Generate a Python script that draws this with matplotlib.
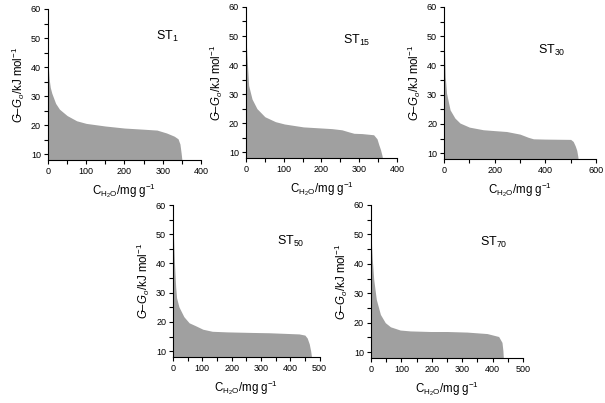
import matplotlib
matplotlib.use("Agg")
import matplotlib.pyplot as plt
from matplotlib.ticker import MultipleLocator

plt.rcParams['font.family'] = ['Liberation Sans', 'DejaVu Sans']
plt.rcParams['mathtext.fontset'] = 'custom'
plt.rcParams['mathtext.rm'] = 'Liberation Sans'
plt.rcParams['mathtext.it'] = 'Liberation Sans:italic'

# water content (mg/g) and free energy (kJ/mol)
st1_x = [0, 1, 3, 6, 10, 20, 30, 50, 75, 100, 150, 200, 250, 285, 310, 330, 340, 345, 348, 351]
st1_y = [45, 40, 36, 33, 31, 27.5, 25.5, 23.3, 21.5, 20.6, 19.7, 19.0, 18.6, 18.3, 17.3, 16.2, 15.3, 13.5, 10.5, 7]

st15_x = [0, 1, 3, 7, 16, 29, 50, 78, 102, 152, 203, 228, 254, 272, 286, 307, 338, 347, 352, 356, 360, 363]
st15_y = [51, 47, 42, 33, 28.3, 25, 22.2, 20.5, 19.7, 18.7, 18.3, 18.1, 17.7, 17.0, 16.5, 16.4, 16.0, 14.6, 12.5, 11, 9, 7]

st30_x = [0, 2, 5, 10, 24, 43, 63, 100, 155, 200, 247, 300, 333, 353, 400, 500, 510, 518, 524, 528, 531]
st30_y = [52, 45, 36, 30.5, 24.8, 22, 20.3, 18.9, 18, 17.7, 17.4, 16.5, 15.4, 14.9, 14.8, 14.7, 14.0, 12.5, 11, 9, 7]

st50_x = [0, 2, 5, 9, 12, 20, 37, 55, 77, 102, 134, 184, 271, 328, 430, 450, 458, 465, 470, 474]
st50_y = [55, 48, 40, 32, 28.3, 25.2, 21.8, 19.7, 18.7, 17.5, 16.8, 16.6, 16.4, 16.3, 15.9, 15.5, 14.5, 12.5, 10, 7]

st70_x = [0, 2, 4, 9, 17.5, 31, 47, 64, 96, 129, 195, 250, 316, 382, 420, 431, 434, 436]
st70_y = [53, 46, 42, 34.7, 27.9, 22.8, 20, 18.6, 17.5, 17.2, 17, 17, 16.8, 16.3, 15.3, 13.3, 10.5, 7]

panels = [
    ("ST$_1$", st1_x, st1_y, 400, 100, 50, [0.0793, 0.603, 0.2529, 0.3747], (0.706, 0.815)),
    ("ST$_{15}$", st15_x, st15_y, 400, 100, 50, [0.4066, 0.608, 0.2496, 0.3747], (0.64, 0.78)),
    ("ST$_{30}$", st30_x, st30_y, 600, 200, 100, [0.7339, 0.6055, 0.2512, 0.3772], (0.62, 0.717)),
    ("ST$_{50}$", st50_x, st50_y, 500, 100, 50, [0.286, 0.1141, 0.2421, 0.3772], (0.71, 0.757)),
    ("ST$_{70}$", st70_x, st70_y, 500, 100, 50, [0.6132, 0.1117, 0.2512, 0.3797], (0.717, 0.758)),
]

fig = plt.figure(figsize=(6.05, 4.03), dpi=100)

for name, x, y, xmax, major, minor, pos, tpos in panels:
    ax = fig.add_axes(pos)
    ax.fill_between(x, y, 0, color='#a0a0a0', lw=0)
    ax.set_xlim(0, xmax)
    ax.set_ylim(8, 60)
    ax.xaxis.set_major_locator(MultipleLocator(major))
    ax.xaxis.set_minor_locator(MultipleLocator(minor))
    ax.yaxis.set_major_locator(MultipleLocator(10))
    ax.yaxis.set_minor_locator(MultipleLocator(5))
    ax.set_yticks([10, 20, 30, 40, 50, 60])
    for s in ['top', 'right']:
        ax.spines[s].set_visible(False)
    for s in ['left', 'bottom']:
        ax.spines[s].set_linewidth(0.8)
    ax.tick_params(which='major', length=3, width=0.8, labelsize=6.5, pad=2)
    ax.tick_params(which='minor', length=3, width=0.8)
    ax.set_xlabel(r"C$_{\mathrm{H_2O}}$/mg g$^{-1}$", fontsize=8.3, labelpad=4)
    ax.set_ylabel(r"$G$–$G_o$/kJ mol$^{-1}$", fontsize=8.3, labelpad=3)
    ax.text(tpos[0], tpos[1], name, transform=ax.transAxes, fontsize=9, va='center')

plt.savefig("out.png", dpi=100)
